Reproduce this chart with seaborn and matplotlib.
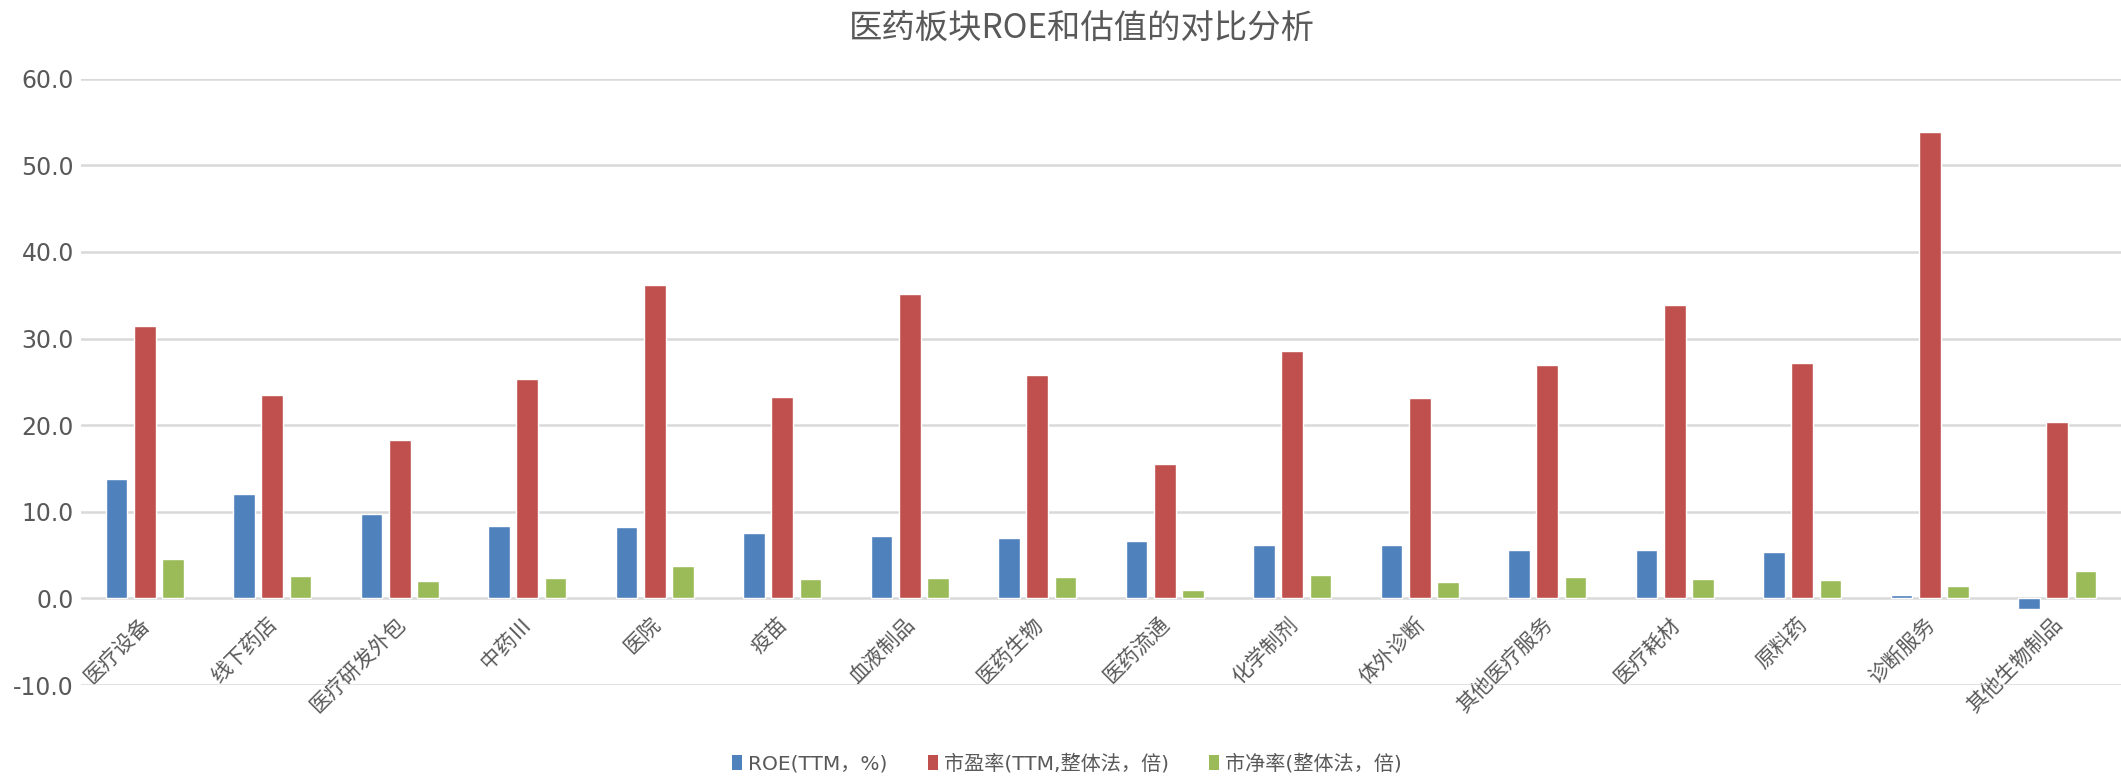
import numpy as np
import pandas as pd
import matplotlib
matplotlib.use("Agg")
import matplotlib.pyplot as plt
import seaborn as sns
from matplotlib.patches import Patch

# ---------------- 数据 ----------------
行业 = ["医疗设备", "线下药店", "医疗研发外包", "中药Ⅲ", "医院", "疫苗", "血液制品",
      "医药生物", "医药流通", "化学制剂", "体外诊断", "其他医疗服务", "医疗耗材",
      "原料药", "诊断服务", "其他生物制品"]
roe = [13.8, 12.0, 9.8, 8.4, 8.2, 7.6, 7.2, 7.0, 6.6, 6.2, 6.2, 5.6, 5.6, 5.3, 0.35, -1.2]
pe = [31.4, 23.5, 18.3, 25.3, 36.2, 23.2, 35.2, 25.8, 15.5, 28.6, 23.1, 26.9, 33.9, 27.2, 53.8, 20.4]
pb = [4.6, 2.6, 2.0, 2.4, 3.7, 2.2, 2.4, 2.5, 0.95, 2.65, 1.85, 2.5, 2.25, 2.1, 1.4, 3.2]
指标 = ["ROE(TTM，%)", "市盈率(TTM,整体法，倍)", "市净率(整体法，倍)"]
颜色 = ["#4F81BD", "#C0504D", "#9BBB59"]

df = pd.DataFrame({"行业": 行业, 指标[0]: roe, 指标[1]: pe, 指标[2]: pb})
df_long = df.melt(id_vars="行业", var_name="指标", value_name="值")

# ---------------- 画图 ----------------
sns.set_theme(style="white")
plt.rcParams["font.family"] = ["Noto Sans CJK SC", "DejaVu Sans"]
灰 = "#595959"

fig = plt.figure(figsize=(21.21, 7.77), dpi=100)
ax = fig.add_axes([0.0382, 0.1184, 0.9618, 0.7803])

sns.barplot(data=df_long, x="行业", y="值", hue="指标", hue_order=指标,
            palette=颜色, width=0.667, gap=0.24, saturation=1, ax=ax,
            errorbar=None, legend=False)

ax.set_ylim(-10, 60)
ax.set_xlim(-0.5, len(行业) - 0.5)
ax.set_yticks(np.arange(-10, 61, 10))
ax.set_yticklabels([f"{v:.1f}" for v in np.arange(-10, 61, 10)],
                   family="DejaVu Sans", fontsize=17, color=灰)
ax.yaxis.grid(True, color="#D9D9D9", linewidth=1.8)
ax.set_axisbelow(True)
for s in ["top", "right", "left"]:
    ax.spines[s].set_visible(False)
ax.spines["bottom"].set_position(("data", 0))
ax.spines["bottom"].set_visible(False)
ax.tick_params(axis="both", length=0)
ax.tick_params(axis="y", pad=5)
ax.tick_params(axis="x", pad=15)
ax.set_xlabel("")
ax.set_ylabel("")
ax.set_xticks(range(len(行业)))
ax.set_xticklabels(行业, rotation=45, ha="right", va="center_baseline",
                   rotation_mode="anchor", fontsize=15, color=灰)

fig.text(0.51, 0.962, "医药板块ROE和估值的对比分析", ha="center", va="center",
         fontsize=24, color=灰, fontweight="medium")

handles = [Patch(facecolor=c, edgecolor="none") for c in 颜色]
fig.legend(handles, 指标, loc="center", bbox_to_anchor=(0.503, 0.017), ncol=3,
           frameon=False, handlelength=0.5, handleheight=0.8, handletextpad=0.3,
           columnspacing=2.0, prop={"family": ["DejaVu Sans", "Noto Sans CJK SC"], "size": 14.5},
           labelcolor=灰)

fig.savefig("out.png", dpi=100)
